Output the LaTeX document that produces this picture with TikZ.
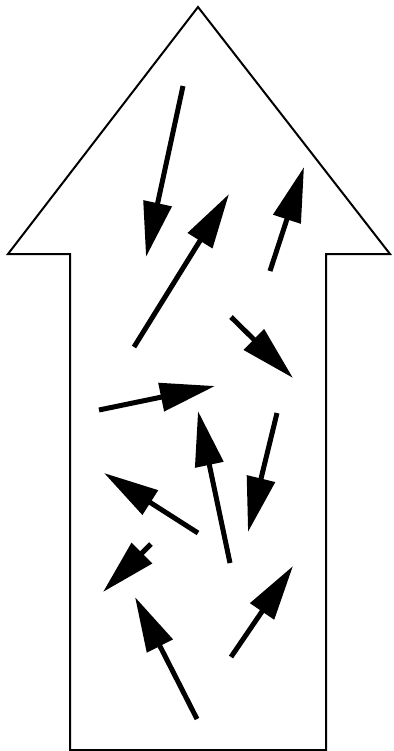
\documentclass[tikz,border=0pt]{standalone}
\usepackage{tikz}
\usetikzlibrary{arrows.meta}
\tikzset{
    bigarrow/.style={draw=black, line width=0.04cm, line join=miter},
    spin/.style={line width=0.1cm, -{Triangle[length=1.1cm, width=0.56cm]}}
}

\begin{document}
\begin{tikzpicture}[x=0.02cm, y=-0.02cm]
    \useasboundingbox (0,0) rectangle (393,751);

    % Outline of the big upward arrow
    \coordinate (Tip) at (198,7);
    \coordinate (WingL) at (8,254);
    \coordinate (WingR) at (390,254);
    \draw[bigarrow] (Tip) -- (WingR) -- (326,254) -- (326,750) -- (70,750) -- (70,254) -- (WingL) -- cycle;

    % Small arrows inside
    \foreach \i/\sx/\sy/\ex/\ey in {
        1/183/86/146/257,
        2/134/347/229/194,
        3/270/271/304/167,
        4/231/317/293/378,
        5/99/410/215/386,
        6/230/563/198/411,
        7/277/413/248/532,
        8/198/533/104/473,
        9/151/544/103/592,
        10/197/719/135/597,
        11/231/657/293/566} {
        \coordinate (S\i) at (\sx,\sy);
        \coordinate (E\i) at (\ex,\ey);
        \draw[spin] (S\i) -- (E\i);
    }
\end{tikzpicture}
\end{document}
